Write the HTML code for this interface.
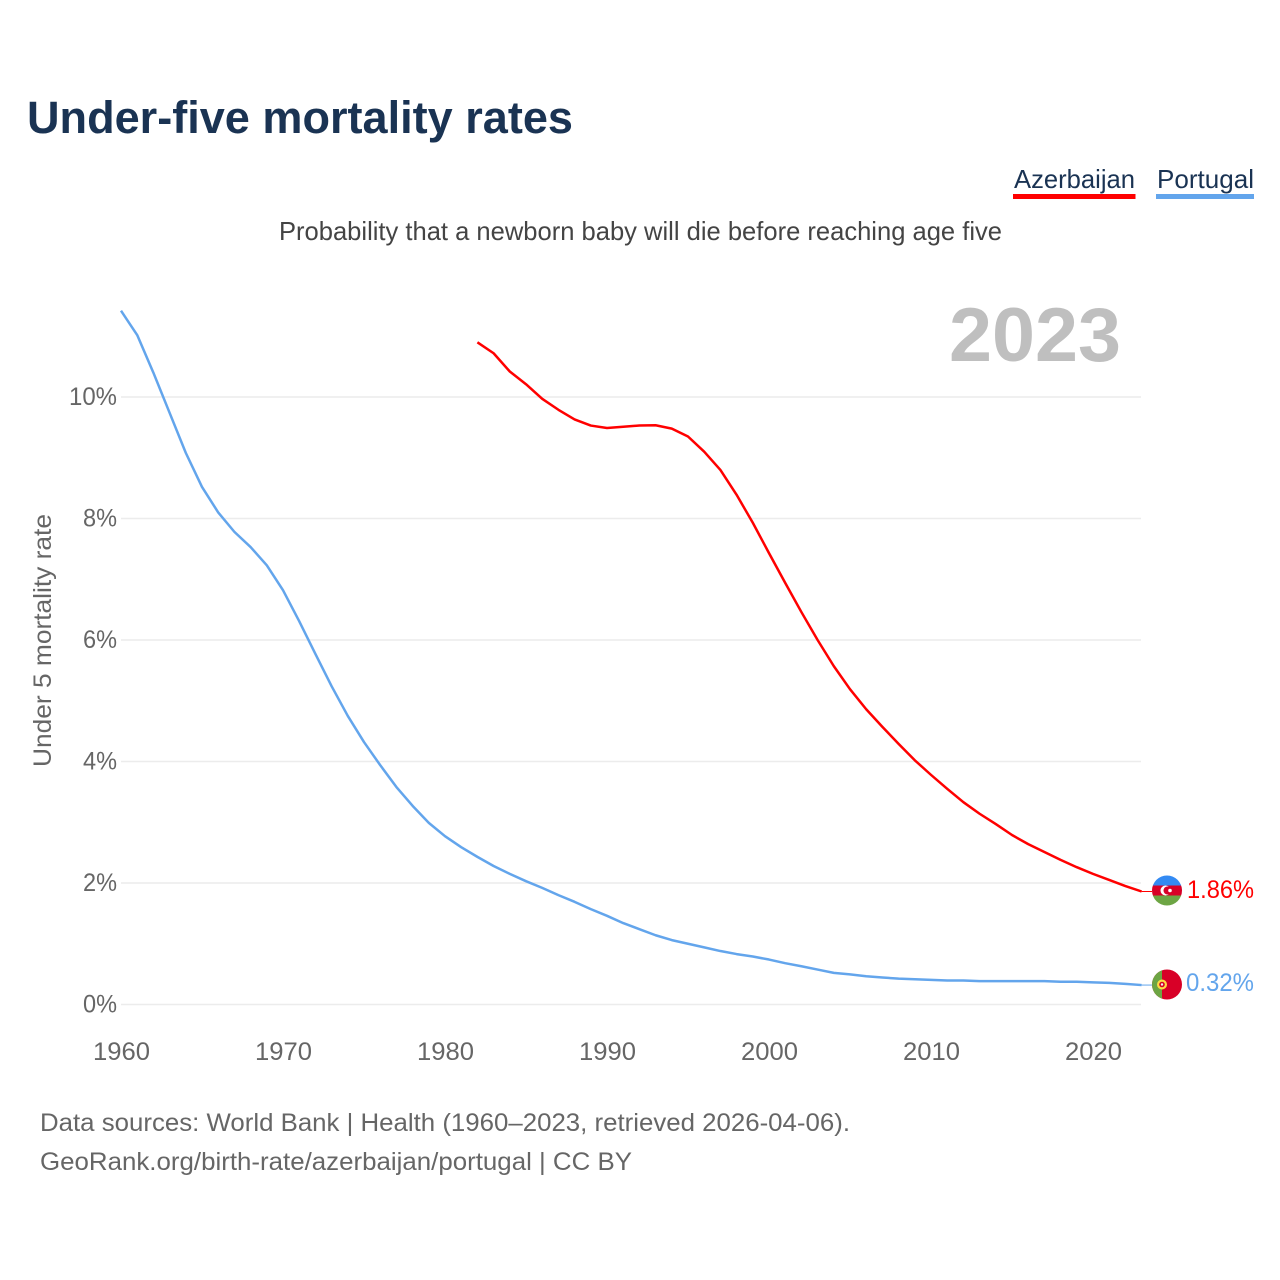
<!DOCTYPE html>
<html lang="en">
<head>
<meta charset="utf-8">
<title>Under-five mortality rates</title>
<style>
html,body{margin:0;padding:0;background:#fff}
svg{display:block}
text{font-family:"Liberation Sans",sans-serif}
</style>
</head>
<body>
<svg id="chart" width="1280" height="1280" viewBox="0 0 1280 1280" xmlns="http://www.w3.org/2000/svg">
  <defs>
    <clipPath id="clip-az"><circle cx="1167" cy="890.5" r="15"/></clipPath>
    <clipPath id="clip-pt"><circle cx="1167" cy="984.5" r="15"/></clipPath>
  </defs>
  <rect width="1280" height="1280" fill="#fff"/>
  <text x="27" y="133" font-size="45" font-weight="700" fill="#1a3353" textLength="546" lengthAdjust="spacingAndGlyphs">Under-five mortality rates</text>
  <text x="1014" y="188" font-size="26" fill="#1a3353" textLength="121" lengthAdjust="spacingAndGlyphs">Azerbaijan</text>
  <rect x="1013" y="194" width="122.500" height="5" fill="#ff0000"/>
  <text x="1157" y="188" font-size="26" fill="#1a3353" textLength="97" lengthAdjust="spacingAndGlyphs">Portugal</text>
  <rect x="1156" y="194" width="98" height="5" fill="#63a5ec"/>
  <text x="279" y="240" font-size="26" fill="#444" textLength="723" lengthAdjust="spacingAndGlyphs">Probability that a newborn baby will die before reaching age five</text>
  <text x="949" y="361" font-size="76" font-weight="700" fill="#bfbfbf" textLength="172" lengthAdjust="spacingAndGlyphs">2023</text>
  <text transform="translate(51 767) rotate(-90)" font-size="25" fill="#666" textLength="253" lengthAdjust="spacingAndGlyphs">Under 5 mortality rate</text>
  <g id="grid"></g>
  <g id="y-ticks"></g>
  <g id="x-ticks"></g>
  <g id="series"></g>

  <g clip-path="url(#clip-az)">
    <rect x="1152" y="875" width="30" height="10.500" fill="#338af3"/>
    <rect x="1152" y="885.500" width="30" height="10" fill="#d80027"/>
    <rect x="1152" y="895.500" width="30" height="10.500" fill="#6da544"/>
    <circle cx="1165.500" cy="890.500" r="5" fill="#fff"/>
    <circle cx="1167.500" cy="890.500" r="4" fill="#d80027"/>
    <circle cx="1170" cy="890.500" r="1.800" fill="#fff"/>
  </g>
  <g clip-path="url(#clip-pt)">
    <rect x="1152" y="969" width="30" height="31" fill="#d80027"/>
    <rect x="1152" y="969" width="10" height="31" fill="#6da544"/>
    <circle cx="1162" cy="984.500" r="5" fill="#ffda44"/>
    <circle cx="1162" cy="984.500" r="2.800" fill="#d80027"/>
    <circle cx="1162" cy="984.500" r="1.200" fill="#f0f0f0"/>
  </g>
  <text id="label-az" x="1187" y="898" font-size="25" fill="#ff0000" textLength="67" lengthAdjust="spacingAndGlyphs"></text>
  <text id="label-pt" x="1186" y="991" font-size="25" fill="#63a5ec" textLength="68" lengthAdjust="spacingAndGlyphs"></text>

  <text x="40" y="1131" font-size="25" fill="#666" textLength="810" lengthAdjust="spacingAndGlyphs">Data sources: World Bank | Health (1960–2023, retrieved 2026-04-06).</text>
  <text x="40" y="1170" font-size="25" fill="#666" textLength="592" lengthAdjust="spacingAndGlyphs">GeoRank.org/birth-rate/azerbaijan/portugal | CC BY</text>
</svg>
<script>
const yTickValues = [0, 2, 4, 6, 8, 10];
const xTickValues = [1960, 1970, 1980, 1990, 2000, 2010, 2020];
const portugalStart = 1960;
const portugalValues = [11.42, 11.02, 10.40, 9.74, 9.08, 8.52, 8.10, 7.78, 7.53, 7.23,
  6.82, 6.31, 5.77, 5.24, 4.75, 4.32, 3.94, 3.58, 3.27, 2.99,
  2.77, 2.59, 2.43, 2.28, 2.15, 2.03, 1.92, 1.80, 1.69, 1.57,
  1.46, 1.34, 1.24, 1.14, 1.06, 1.00, 0.94, 0.88, 0.83, 0.79,
  0.74, 0.68, 0.63, 0.575, 0.52, 0.495, 0.465, 0.445, 0.425, 0.415,
  0.405, 0.395, 0.395, 0.385, 0.385, 0.385, 0.385, 0.385, 0.375, 0.375,
  0.365, 0.355, 0.34, 0.32];
const azerbaijanStart = 1982;
const azerbaijanValues = [10.90, 10.72, 10.42, 10.21, 9.97, 9.79, 9.63, 9.53,
  9.49, 9.51, 9.53, 9.535, 9.48, 9.35, 9.10, 8.80, 8.39, 7.93,
  7.43, 6.94, 6.46, 6.00, 5.57, 5.19, 4.86, 4.57, 4.29, 4.02,
  3.78, 3.55, 3.33, 3.14, 2.97, 2.79, 2.64, 2.51, 2.38, 2.26,
  2.15, 2.05, 1.95, 1.86];

const NS = 'http://www.w3.org/2000/svg';
const xScale = year => 121 + (year - 1960) * 16.2;
const yScale = value => 1004.5 - value * 60.75;

function make(tag, parent, attrs, content) {
  const el = document.createElementNS(NS, tag);
  for (const key in attrs) el.setAttribute(key, attrs[key]);
  if (content !== undefined) el.textContent = content;
  parent.appendChild(el);
  return el;
}

const grid = document.getElementById('grid');
const yTicks = document.getElementById('y-ticks');
const xTicks = document.getElementById('x-ticks');
const seriesGroup = document.getElementById('series');

yTickValues.forEach(v => {
  const line = make('line', grid, {x1: 121, x2: 1141, y1: yScale(v), y2: yScale(v), stroke: '#ececec', 'stroke-width': 1.5});
  
  
  const label = v + '%';
  const t = make('text', yTicks, {x: 117 - (14 * label.length + 6), y: yScale(v) + 8, 'font-size': 25, fill: '#666',
    textLength: 14 * label.length + 6, lengthAdjust: 'spacingAndGlyphs'}, label);
  
  
});

xTickValues.forEach(v => {
  const t = make('text', xTicks, {x: xScale(v) - 28, y: 1060, 'font-size': 25, fill: '#666',
    textLength: 57, lengthAdjust: 'spacingAndGlyphs'}, String(v));
  
  
});

function pathFor(start, values) {
  return values.map((v, i) => (i ? 'L' : 'M') + xScale(start + i).toFixed(2) + ' ' + yScale(v).toFixed(2)).join(' ');
}

const portugalLine = make('path', seriesGroup, {d: pathFor(portugalStart, portugalValues), fill: 'none', stroke: '#63a5ec', 'stroke-width': 2.5, 'stroke-linejoin': 'round'});



const azerbaijanLine = make('path', seriesGroup, {d: pathFor(azerbaijanStart, azerbaijanValues), fill: 'none', stroke: '#ff0000', 'stroke-width': 2.5, 'stroke-linejoin': 'round'});



const lastPt = portugalValues[portugalValues.length - 1];
const lastAz = azerbaijanValues[azerbaijanValues.length - 1];
const connectorPt = make('line', seriesGroup, {x1: xScale(2023), x2: 1152, y1: yScale(lastPt), y2: yScale(lastPt), stroke: '#63a5ec', 'stroke-width': 1});


const connectorAz = make('line', seriesGroup, {x1: xScale(2023), x2: 1152, y1: yScale(lastAz), y2: yScale(lastAz), stroke: '#ff0000', 'stroke-width': 1});



document.getElementById('label-az').textContent = lastAz.toFixed(2) + '%';
document.getElementById('label-pt').textContent = lastPt.toFixed(2) + '%';
</script>
</body>
</html>
